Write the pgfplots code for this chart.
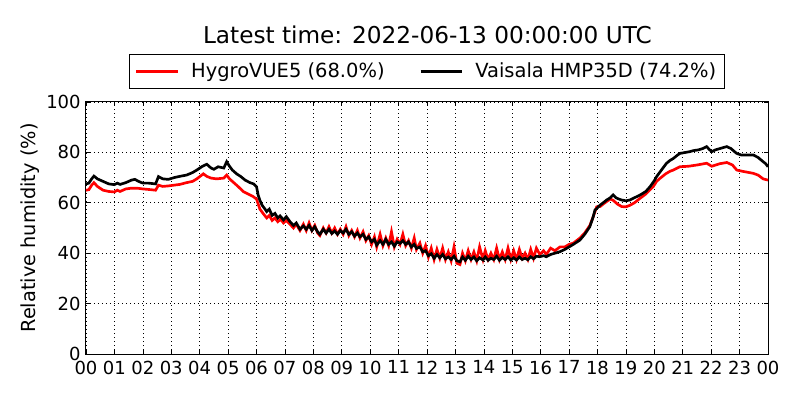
\documentclass[border=0pt]{standalone}
\usepackage{fontspec}
\setmainfont{DejaVu Sans}
\usepackage{pgfplots}
\pgfplotsset{compat=1.18}
\pgfplotstableread{
h v
0.00 65.0
0.10 65.2
0.20 67.0
0.28 68.0
0.40 66.5
0.60 65.0
0.80 64.5
1.00 64.3
1.10 65.0
1.20 64.5
1.40 65.5
1.60 65.8
1.80 65.8
2.00 65.5
2.20 65.3
2.45 65.0
2.55 67.0
2.70 66.5
2.90 66.7
3.10 67.0
3.30 67.3
3.54 68.0
3.75 68.5
3.90 69.5
4.05 70.8
4.13 71.5
4.25 70.5
4.40 69.8
4.60 69.5
4.85 69.8
4.95 71.0
5.05 69.5
5.20 68.0
5.35 66.5
5.53 64.5
5.70 63.5
5.88 62.5
6.00 61.5
6.06 59.5
6.12 57.5
6.25 55.5
6.36 54.0
6.45 55.0
6.55 53.0
6.65 54.0
6.75 52.5
6.85 53.5
6.95 52.0
7.05 53.0
7.18 51.5
7.30 50.0
7.40 51.5
7.53 49.0
7.65 51.5
7.75 49.0
7.85 52.0
7.95 49.0
8.05 51.0
8.15 48.0
8.23 47.0
8.35 50.0
8.45 48.0
8.55 50.5
8.65 48.0
8.75 50.0
8.85 47.5
8.95 49.5
9.05 47.5
9.15 50.5
9.25 47.0
9.35 49.0
9.45 46.5
9.55 49.0
9.64 46.0
9.75 48.5
9.85 45.0
9.95 47.0
10.05 43.5
10.15 46.5
10.23 42.5
10.35 47.5
10.45 43.0
10.55 46.0
10.65 43.0
10.75 48.5
10.85 42.5
10.95 45.5
11.05 43.5
11.15 47.5
11.25 43.0
11.35 45.0
11.45 42.0
11.55 46.0
11.63 41.5
11.75 44.0
11.85 40.0
11.95 43.0
12.05 38.5
12.15 42.0
12.25 37.5
12.35 41.5
12.45 38.0
12.55 42.0
12.65 37.5
12.75 40.5
12.85 37.0
12.95 42.5
13.05 36.0
13.16 35.5
13.25 40.0
13.35 37.0
13.45 41.0
13.55 37.5
13.65 40.5
13.75 37.0
13.85 42.5
13.97 37.5
14.05 41.0
14.15 37.5
14.25 40.0
14.35 37.5
14.45 42.0
14.55 37.5
14.65 40.5
14.75 37.5
14.85 42.0
14.95 37.5
15.05 41.0
15.15 37.5
15.25 41.5
15.35 38.0
15.45 40.0
15.55 37.5
15.65 41.5
15.75 38.0
15.85 42.0
15.97 39.5
16.10 41.0
16.20 39.5
16.35 42.0
16.50 41.0
16.68 42.5
16.85 42.5
17.00 43.5
17.15 44.0
17.38 46.0
17.55 48.0
17.73 51.0
17.85 54.5
17.97 58.4
18.09 58.5
18.20 59.5
18.32 60.5
18.45 61.5
18.55 61.0
18.70 59.5
18.85 58.5
19.00 58.4
19.14 59.0
19.30 60.0
19.50 61.8
19.70 63.5
19.96 66.4
20.08 68.5
20.20 69.7
20.40 71.5
20.55 72.5
20.67 73.0
20.90 74.3
21.20 74.5
21.50 75.0
21.84 75.7
22.02 74.5
22.30 75.5
22.55 76.0
22.75 75.0
22.90 73.0
23.10 72.5
23.48 71.7
23.65 71.0
23.83 69.5
24.00 69.0
}\hygro
\pgfplotstableread{
h v
0.00 67.5
0.10 67.8
0.20 69.5
0.28 70.6
0.40 69.5
0.60 68.5
0.80 67.5
1.00 67.2
1.10 67.8
1.20 67.3
1.40 68.0
1.60 69.0
1.72 69.3
1.85 68.5
2.00 67.8
2.20 67.8
2.45 67.5
2.55 70.4
2.70 69.5
2.90 69.3
3.10 70.0
3.30 70.5
3.54 71.0
3.75 72.0
3.90 73.0
4.10 74.5
4.25 75.3
4.40 73.8
4.50 73.3
4.65 74.3
4.85 73.8
4.95 76.3
5.05 74.5
5.15 73.0
5.30 71.5
5.45 70.4
5.60 69.0
5.77 68.0
5.90 67.5
6.00 66.4
6.06 63.0
6.12 61.0
6.20 59.0
6.30 57.5
6.36 56.5
6.45 57.5
6.55 55.0
6.65 55.8
6.75 54.0
6.83 54.8
6.95 53.2
7.05 54.5
7.18 52.5
7.30 51.0
7.40 52.0
7.53 49.5
7.65 50.8
7.75 49.5
7.85 51.0
7.95 49.0
8.05 50.5
8.15 48.5
8.23 47.5
8.35 49.5
8.45 48.0
8.55 49.5
8.65 47.8
8.75 48.8
8.85 47.5
8.95 49.0
9.05 48.0
9.15 49.5
9.25 47.5
9.35 48.5
9.45 46.8
9.55 48.0
9.64 46.5
9.75 47.5
9.85 45.5
9.95 46.5
10.05 44.5
10.15 45.5
10.23 43.2
10.35 45.0
10.45 43.5
10.55 45.5
10.65 43.5
10.75 44.5
10.85 42.8
10.95 44.5
11.05 43.9
11.15 45.0
11.25 43.5
11.35 44.5
11.45 42.5
11.55 43.5
11.63 41.9
11.75 42.5
11.85 40.5
11.95 41.0
12.05 39.0
12.15 39.8
12.25 38.0
12.35 39.5
12.45 38.2
12.55 39.5
12.65 37.8
12.75 38.5
12.85 37.5
12.95 38.8
13.05 37.0
13.16 36.6
13.25 38.5
13.35 37.2
13.45 38.8
13.55 37.5
13.65 38.5
13.75 37.0
13.85 38.2
13.97 37.3
14.05 38.5
14.15 37.2
14.25 38.0
14.35 37.5
14.45 38.8
14.55 37.2
14.65 38.3
14.75 37.5
14.85 38.6
14.95 37.3
15.05 38.2
15.15 37.3
15.25 38.5
15.35 37.5
15.45 38.0
15.55 37.4
15.65 38.6
15.75 37.8
15.85 38.8
15.97 38.6
16.10 39.0
16.20 38.6
16.35 39.5
16.50 40.0
16.68 40.6
16.85 41.5
17.00 42.5
17.15 43.5
17.38 45.2
17.55 47.5
17.73 50.5
17.85 54.5
17.91 57.1
18.00 58.0
18.09 59.1
18.20 60.0
18.32 61.1
18.45 62.0
18.55 63.1
18.65 62.0
18.75 61.5
18.85 61.1
19.00 60.8
19.14 61.1
19.30 62.0
19.50 63.1
19.70 64.5
19.85 66.4
20.00 68.8
20.08 70.4
20.25 73.0
20.43 75.7
20.55 76.8
20.67 77.6
20.80 78.8
20.90 79.6
21.10 80.0
21.25 80.3
21.37 80.7
21.55 81.0
21.70 81.5
21.84 82.3
21.93 81.2
22.02 80.3
22.15 81.0
22.30 81.5
22.45 82.0
22.55 82.3
22.70 81.5
22.80 80.5
22.90 79.6
23.05 79.0
23.25 79.0
23.48 79.0
23.65 78.0
23.83 76.3
23.92 75.5
24.00 74.3
}\vaisala
\begin{document}
\begin{tikzpicture}[x=1pt,y=1pt]
\path[use as bounding box] (0,0) rectangle (600,300);
\begin{axis}[
  at={(64.5pt,34.5pt)}, anchor=south west,
  scale only axis, width=511.5pt, height=189pt,
  xmin=0, xmax=24, ymin=0, ymax=100,
  xtick={0,1,...,24},
  xticklabels={00,01,02,03,04,05,06,07,08,09,10,11,12,13,14,15,16,17,18,19,20,21,22,23,00},
  ytick={0,20,40,60,80,100},
  grid=major,
  major grid style={black, line width=0.5pt, dash pattern=on 0.75pt off 2.25pt},
  tick align=inside, major tick length=3pt,
  every tick/.style={black, line width=0.5pt},
  axis line style={black, line width=0.75pt},
  /pgf/number format/assume math mode=true,
  tick label style={font=\fontsize{13.5}{15}\selectfont},
  xticklabel style={yshift=-1.5pt},
  yticklabel style={xshift=-0.5pt},
  ylabel={Relative humidity (\%)},
  ylabel style={font=\fontsize{14.5}{16}\selectfont, at={(axis description cs:-0.082,0.5)}, anchor=center},
  legend columns=2,
  legend style={at={(0.5,1.0516)}, anchor=south, draw=black, line width=0.75pt,
    font=\fontsize{14.6}{16}\selectfont, inner xsep=4pt, inner ysep=4.5pt,
    /tikz/every odd column/.append style={column sep=7pt},
    /tikz/every even column/.append style={column sep=24pt}},
  legend cell align=left,
  legend image code/.code={\draw[#1, line width=2pt] (0pt,0pt) -- (31pt,0pt);},
]
\addplot[red, line width=2pt] table[x=h,y=v] {\hygro};
\addlegendentry{HygroVUE5 (68.0\%)}
\addplot[black, line width=2pt] table[x=h,y=v] {\vaisala};
\addlegendentry{Vaisala HMP35D (74.2\%)}
\end{axis}
\node[font=\fontsize{17.4}{20}\selectfont] at (320.6,273.75) {Latest time: 2022-06-13 00:00:00 UTC};
\end{tikzpicture}
\end{document}
